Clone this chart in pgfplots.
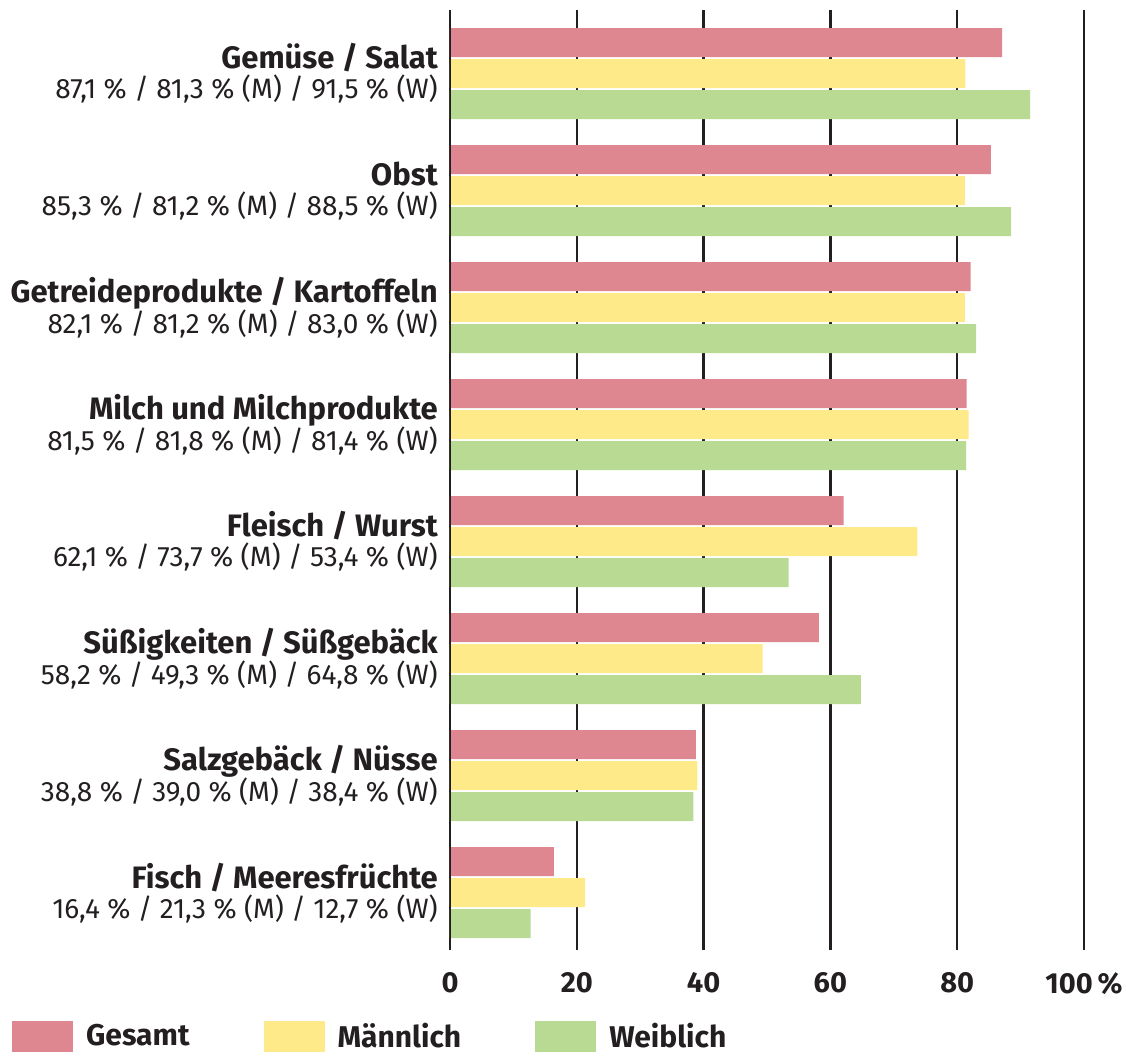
\documentclass[border=0pt]{standalone}
\usepackage{fontspec}
\setmainfont{Fira Sans}
\usepackage{pgfplots}
\pgfplotsset{compat=1.18}

\definecolor{cpink}{HTML}{DE8790}
\definecolor{cyellow}{HTML}{FFEA8A}
\definecolor{cgreen}{HTML}{B9DA93}
\definecolor{ctext}{HTML}{231F20}

\newcommand{\cat}[2]{{\fontsize{31}{30}\selectfont\bfseries #1}\\#2}

\begin{document}
\begin{tikzpicture}
\useasboundingbox (-450pt,-104pt) rectangle (689pt,950pt);
\begin{axis}[
    at={(0pt,0pt)}, anchor=south west,
    scale only axis,
    width=634pt, height=940pt,
    xbar=2pt, bar width=29pt,
    xmin=0, xmax=100,
    ymin=-0.543, ymax=7.49,
    y dir=reverse,
    axis line style={draw=none},
    major tick length=0pt,
    xmajorgrids,
    major grid style={ctext, line width=2.5pt},
    xtick={0,20,40,60,80,100},
    xticklabels={0,20,40,60,80,100\,\%},
    xticklabel style={font=\fontsize{29}{30}\selectfont\bfseries, text=ctext, inner sep=0pt, yshift=-22pt},
    ytick={0,...,7},
    yticklabels={
      {\cat{Gemüse / Salat}{87,1 \% / 81,3 \% (M) / 91,5 \% (W)}},
      {\cat{Obst}{85,3 \% / 81,2 \% (M) / 88,5 \% (W)}},
      {\cat{Getreideprodukte / Kartoffeln}{82,1 \% / 81,2 \% (M) / 83,0 \% (W)}},
      {\cat{Milch und Milchprodukte}{81,5 \% / 81,8 \% (M) / 81,4 \% (W)}},
      {\cat{Fleisch / Wurst}{62,1 \% / 73,7 \% (M) / 53,4 \% (W)}},
      {\cat{Süßigkeiten / Süßgebäck}{58,2 \% / 49,3 \% (M) / 64,8 \% (W)}},
      {\cat{Salzgebäck / Nüsse}{38,8 \% / 39,0 \% (M) / 38,4 \% (W)}},
      {\cat{Fisch / Meeresfrüchte}{16,4 \% / 21,3 \% (M) / 12,7 \% (W)}}},
    yticklabel style={align=right, font=\fontsize{28}{30}\selectfont, text=ctext, inner sep=0pt, xshift=-12pt},
    legend columns=3,
    legend style={at={(rel axis cs:-0.691,-0.0915)}, anchor=west, draw=none, fill=none,
      font=\fontsize{30}{30}\selectfont\bfseries, text=ctext, inner sep=0pt,
      /tikz/every even column/.append style={column sep=72pt},
      /tikz/every odd column/.append style={column sep=11pt}},
    legend image code/.code={\fill[#1] (0pt,-15.5pt) rectangle (61pt,15.5pt);},
]
\addplot[fill=cpink, draw=none, bar shift=31pt] coordinates {
    (87.1,0) (85.3,1) (82.1,2) (81.5,3) (62.1,4) (58.2,5) (38.8,6) (16.4,7)};
\addplot[fill=cyellow, draw=none, bar shift=0pt] coordinates {
    (81.3,0) (81.2,1) (81.2,2) (81.8,3) (73.7,4) (49.3,5) (39.0,6) (21.3,7)};
\addplot[fill=cgreen, draw=none, bar shift=-31pt] coordinates {
    (91.5,0) (88.5,1) (83.0,2) (81.4,3) (53.4,4) (64.8,5) (38.4,6) (12.7,7)};
\legend{Gesamt, Männlich, Weiblich}
\draw[ctext, line width=2.5pt] (rel axis cs:0,0) -- (rel axis cs:0,1);
\end{axis}
\end{tikzpicture}
\end{document}
